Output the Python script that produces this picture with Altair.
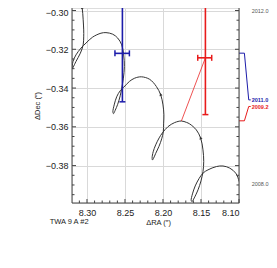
import altair as alt
import pandas as pd

# ---------------- data (arcsec) ----------------
# model orbital/parallax track
curve_ra = [8.3083, 8.3063, 8.3050, 8.3043, 8.3043, 8.3050, 8.3087, 8.3145, 8.3182, 8.3193,
            8.3193, 8.3184, 8.3145, 8.3079, 8.3013, 8.2925, 8.2816, 8.2750, 8.2662, 8.2596,
            8.2543, 8.2517, 8.2508, 8.2521, 8.2543, 8.2563, 8.2596, 8.2629, 8.2651, 8.2659,
            8.2642, 8.2609, 8.2563, 8.2517, 8.2442, 8.2372, 8.2284, 8.2175, 8.2087, 8.2030,
            8.2000, 8.1988, 8.1991, 8.1996, 8.2017, 8.2053, 8.2096, 8.2125, 8.2138, 8.2143,
            8.2129, 8.2096, 8.2050, 8.2007, 8.1934, 8.1846, 8.1758, 8.1692, 8.1649, 8.1561,
            8.1504, 8.1474, 8.1464, 8.1474, 8.1500, 8.1539, 8.1589, 8.1618, 8.1629, 8.1612,
            8.1576, 8.1524, 8.1471, 8.1408, 8.1297, 8.1211, 8.1122, 8.1043, 8.0995, 8.0964]
curve_dec = [-0.2945, -0.2986, -0.3048, -0.3100, -0.3136, -0.3177, -0.3220, -0.3263, -0.3293, -0.3301,
             -0.3285, -0.3263, -0.3229, -0.3194, -0.3168, -0.3137, -0.3117, -0.3114, -0.3122, -0.3142,
             -0.3177, -0.3229, -0.3289, -0.3349, -0.3401, -0.3440, -0.3484, -0.3515, -0.3532, -0.3523,
             -0.3487, -0.3445, -0.3414, -0.3396, -0.3366, -0.3349, -0.3342, -0.3355, -0.3392, -0.3435,
             -0.3487, -0.3538, -0.3581, -0.3625, -0.3662, -0.3701, -0.3737, -0.3763, -0.3771, -0.3760,
             -0.3729, -0.3693, -0.3657, -0.3631, -0.3599, -0.3578, -0.3570, -0.3577, -0.3585, -0.3616,
             -0.3659, -0.3719, -0.3779, -0.3831, -0.3879, -0.3925, -0.3967, -0.3986, -0.3980, -0.3946,
             -0.3905, -0.3866, -0.3838, -0.3822, -0.3805, -0.3802, -0.3813, -0.3839, -0.3884, -0.3925]

# direction arrows on the track
arrow_ra = [8.3063, 8.2030, 8.1504]
arrow_dec = [-0.2986, -0.3435, -0.3659]

# measurements
meas_label = ["2011.0", "2009.2"]
meas_color = ["#1c1caa", "#e81b1b"]
meas_ra = [8.2534, 8.1442]
meas_dec = [-0.3221, -0.3244]
meas_ra_lo = [8.2442, 8.1359]
meas_ra_hi = [8.2632, 8.1543]
meas_dec_lo = [-0.3471, -0.3537]
meas_dec_hi = [-0.2972, -0.2951]
# model position at each epoch
model_ra = [8.2517, 8.1758]
model_dec = [-0.3220, -0.3570]

# epoch leader lines to the right of the frame
leader_ra = [8.1000, 8.0929, 8.0872, 8.0846]
leader_dec_2011 = [-0.3220, -0.3220, -0.3461, -0.3461]
leader_dec_2009 = [-0.3569, -0.3569, -0.3495, -0.3495]
label_ra = 8.0833
label_dec = [-0.3461, -0.3497]

# time scale ends
scale_years = ["2012.0", "2008.0"]
scale_dec = [-0.3003, -0.3897]

star_name = "TWA 9 A #2"
name_ra = 8.3491
name_dec = -0.4090

x_major = [8.30, 8.25, 8.20, 8.15, 8.10]
x_minor = [8.31, 8.29, 8.28, 8.27, 8.26, 8.24, 8.23, 8.22, 8.21, 8.19, 8.18,
           8.17, 8.16, 8.14, 8.13, 8.12, 8.11]
y_major = [-0.38, -0.36, -0.34, -0.32, -0.30]
y_minor = [-0.395, -0.39, -0.385, -0.375, -0.37, -0.365, -0.355, -0.35, -0.345,
           -0.335, -0.33, -0.325, -0.315, -0.31, -0.305]

# ---------------- chart ----------------
W, H = 167, 195
FONT = "Liberation Sans"
AX = "#444444"

xs = alt.Scale(domain=[8.10, 8.3197], reverse=True, nice=False, zero=False)
ys = alt.Scale(domain=[-0.3993, -0.2987], nice=False, zero=False)

xaxis = alt.Axis(values=x_major, format=".2f", grid=True, gridColor="#d9d9d9", gridWidth=1,
                 ticks=False, domain=False, labelFontSize=9, labelColor="#222", labelPadding=5,
                 labelFont=FONT, title="ΔRA (″)", titleFont=FONT, titleFontSize=7.5,
                 titleFontWeight="normal", titleColor="#222", titlePadding=1, titleX=86)
yaxis = alt.Axis(values=y_major, format=".2f", grid=True, gridColor="#d9d9d9", gridWidth=1,
                 ticks=False, domain=False, labelFontSize=9, labelColor="#222", labelPadding=4,
                 labelFont=FONT, labelBound=False,
                 labelOffset={"condition": {"test": "datum.value > -0.305", "value": 2}, "value": 0},
                 title="ΔDec (″)", titleFont=FONT, titleFontSize=7.5,
                 titleFontWeight="normal", titleColor="#222", titlePadding=4)

X = lambda f: alt.X(f, type="quantitative", scale=xs, axis=xaxis)
Y = lambda f: alt.Y(f, type="quantitative", scale=ys, axis=yaxis)

curve_df = pd.DataFrame({"ra": curve_ra, "dec": curve_dec, "i": range(len(curve_ra))})
curve = alt.Chart(curve_df).mark_line(color="#333333", strokeWidth=1, clip=True,
                                      interpolate="catmull-rom").encode(
    x=X("ra"), y=Y("dec"), order="i:Q")

arrow_df = pd.DataFrame({"ra": arrow_ra, "dec": arrow_dec})
arrows = alt.Chart(arrow_df).mark_point(shape="triangle", filled=True, size=10, angle=340,
                                        color="#333333", opacity=1, clip=True).encode(
    x=X("ra"), y=Y("dec"))

meas_df = pd.DataFrame({"epoch": meas_label, "ra": meas_ra, "dec": meas_dec,
                        "ra_lo": meas_ra_lo, "ra_hi": meas_ra_hi,
                        "dec_lo": meas_dec_lo, "dec_hi": meas_dec_hi,
                        "mra": model_ra, "mdec": model_dec})
col = alt.Color("epoch:N", scale=alt.Scale(domain=meas_label, range=meas_color), legend=None)
mbase = alt.Chart(meas_df)

connect = mbase.mark_rule(strokeWidth=0.9, clip=True, opacity=0.85).encode(
    x=X("ra"), y=Y("dec"), x2="mra", y2="mdec", color=col)
vbar = mbase.mark_rule(strokeWidth=1.6, clip=True).encode(
    x=X("ra"), y=Y("dec_lo"), y2="dec_hi", color=col)
hbar = mbase.mark_rule(strokeWidth=1.6, clip=True).encode(
    x=X("ra_lo"), x2="ra_hi", y=Y("dec"), color=col)
cap_lo = mbase.mark_tick(orient="horizontal", size=6, thickness=1.5, clip=True, opacity=1).encode(
    x=X("ra"), y=Y("dec_lo"), color=col)
cap_hi = mbase.mark_tick(orient="horizontal", size=6, thickness=1.5, clip=True, opacity=1).encode(
    x=X("ra"), y=Y("dec_hi"), color=col)
cap_l = mbase.mark_tick(orient="vertical", size=6, thickness=1.5, clip=True, opacity=1).encode(
    x=X("ra_lo"), y=Y("dec"), color=col)
cap_r = mbase.mark_tick(orient="vertical", size=6, thickness=1.5, clip=True, opacity=1).encode(
    x=X("ra_hi"), y=Y("dec"), color=col)

lead_df = pd.DataFrame({
    "ra": leader_ra + leader_ra,
    "dec": leader_dec_2011 + leader_dec_2009,
    "epoch": [meas_label[0]] * 4 + [meas_label[1]] * 4,
    "i": list(range(4)) + list(range(4)),
})
leaders = alt.Chart(lead_df).mark_line(strokeWidth=1).encode(
    x=X("ra"), y=Y("dec"), color=col, detail="epoch:N", order="i:Q")

lab_df = pd.DataFrame({"epoch": meas_label, "ra": [label_ra] * 2, "dec": label_dec})
labels = alt.Chart(lab_df).mark_text(align="left", baseline="middle", fontSize=5.5,
                                     font=FONT, fontWeight="bold").encode(
    x=X("ra"), y=Y("dec"), text="epoch:N", color=col)

yr_df = pd.DataFrame({"t": scale_years, "ra": [label_ra] * 2, "dec": scale_dec})
years = alt.Chart(yr_df).mark_text(align="left", baseline="middle", fontSize=5.5,
                                   font=FONT, color="#555555").encode(
    x=X("ra"), y=Y("dec"), text="t:N")

name_df = pd.DataFrame({"t": [star_name], "ra": [name_ra], "dec": [name_dec]})
name = alt.Chart(name_df).mark_text(align="left", baseline="middle", fontSize=7.5,
                                    font=FONT, color="#222").encode(
    x=X("ra"), y=Y("dec"), text="t:N")

# frame: left, right, bottom lines and inward ticks
one = pd.DataFrame({"k": [0]})
frame_l = alt.Chart(one).mark_rule(color=AX, strokeWidth=1).encode(
    x=alt.value(0), y=alt.value(0), y2=alt.value(H))
frame_r = alt.Chart(one).mark_rule(color=AX, strokeWidth=1).encode(
    x=alt.value(W), y=alt.value(0), y2=alt.value(H))
frame_b = alt.Chart(one).mark_rule(color=AX, strokeWidth=1).encode(
    y=alt.value(H), x=alt.value(0), x2=alt.value(W))

ymaj_df = pd.DataFrame({"dec": y_major})
ymin_df = pd.DataFrame({"dec": y_minor})
xmaj_df = pd.DataFrame({"ra": x_major})
xmin_df = pd.DataFrame({"ra": x_minor})

def yticks(df, side, ln):
    x0 = 0 if side == "l" else W
    x1 = ln if side == "l" else W - ln
    return alt.Chart(df).mark_rule(color=AX, strokeWidth=1).encode(
        y=Y("dec"), x=alt.value(x0), x2=alt.value(x1))

def xticks(df, ln):
    return alt.Chart(df).mark_rule(color=AX, strokeWidth=1).encode(
        x=X("ra"), y=alt.value(H), y2=alt.value(H - ln))

chart = alt.layer(
    curve, arrows, connect, vbar, hbar, cap_lo, cap_hi, cap_l, cap_r,
    leaders, labels, years, name,
    frame_l, frame_r, frame_b,
    yticks(ymaj_df, "l", 4), yticks(ymin_df, "l", 2.5),
    yticks(ymaj_df, "r", 4), yticks(ymin_df, "r", 2.5),
    xticks(xmaj_df, 4), xticks(xmin_df, 2.5),
).properties(
    width=W, height=H, autosize="none",
    padding={"left": 64, "top": 0, "right": 30, "bottom": 40},
).configure_view(stroke=None).configure(background="white")

chart.save("out.html", embed_options={"renderer": "svg", "actions": False})
